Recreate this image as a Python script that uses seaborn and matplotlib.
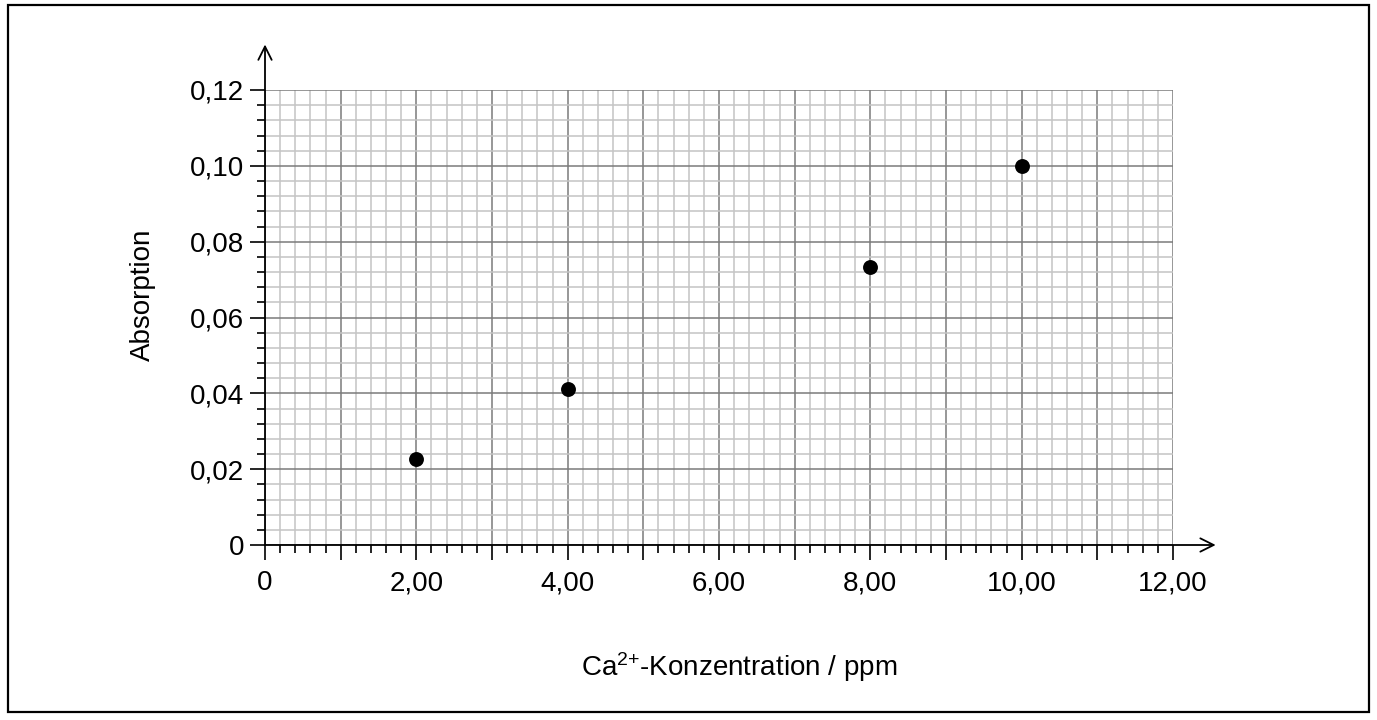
import matplotlib
matplotlib.use("Agg")
import matplotlib.pyplot as plt
import seaborn as sns
import pandas as pd
from matplotlib.ticker import MultipleLocator, FuncFormatter
from matplotlib.patches import Rectangle

# Messwerte
konzentration = [2.0, 4.0, 8.0, 10.0]
absorption = [0.0226, 0.0412, 0.0732, 0.1000]

x_label = "Ca$^{2{+}}$-Konzentration / ppm"
y_label = "Absorption"

df = pd.DataFrame({"c": konzentration, "A": absorption})

sns.set_theme(style="white")
plt.rcParams["font.family"] = ["Liberation Sans", "DejaVu Sans"]
plt.rcParams["mathtext.fontset"] = "custom"
plt.rcParams["mathtext.rm"] = "Liberation Sans"
plt.rcParams["mathtext.it"] = "Liberation Sans"
plt.rcParams["text.color"] = "black"
plt.rcParams["axes.labelcolor"] = "black"
plt.rcParams["xtick.color"] = "black"
plt.rcParams["ytick.color"] = "black"

fig = plt.figure(figsize=(13.77, 7.2), dpi=100)
ax = fig.add_axes([265 / 1377, 1 - 545 / 720, 908 / 1377, 455 / 720])

ax.set_xlim(0, 12)
ax.set_ylim(0, 0.12)

# Millimeterpapier
ax.xaxis.set_major_locator(MultipleLocator(1))
ax.xaxis.set_minor_locator(MultipleLocator(0.2))
ax.yaxis.set_major_locator(MultipleLocator(0.02))
ax.yaxis.set_minor_locator(MultipleLocator(0.004))
ax.grid(which="minor", color="#c4c4c4", linewidth=1.1, zorder=0)
ax.grid(which="major", color="#7a7a7a", linewidth=1.1, zorder=0)
ax.set_axisbelow(True)

def fmt_x(v, pos):
    if abs(v) < 1e-9:
        return "0"
    if int(round(v)) % 2 == 1:
        return ""
    return f"{v:.2f}".replace(".", ",")

def fmt_y(v, pos):
    if abs(v) < 1e-9:
        return "0"
    return f"{v:.2f}".replace(".", ",")

ax.xaxis.set_major_formatter(FuncFormatter(fmt_x))
ax.yaxis.set_major_formatter(FuncFormatter(fmt_y))

ax.tick_params(axis="both", which="major", direction="out", length=11, width=1.2,
               color="black", labelcolor="black", labelsize=20, left=True, bottom=True)
ax.tick_params(axis="both", which="minor", direction="out", length=6, width=1.2,
               color="black", left=True, bottom=True)
ax.tick_params(axis="x", which="major", pad=7)
ax.tick_params(axis="y", which="major", pad=4)

for side in ["top", "right", "left", "bottom"]:
    ax.spines[side].set_visible(False)

# Achsen mit Pfeilen
ax.annotate("", xy=(0, 1.10), xytext=(0, 0), xycoords="axes fraction",
            arrowprops=dict(arrowstyle="->,head_length=0.8,head_width=0.4", color="black", lw=1.3,
                            shrinkA=0, shrinkB=0), annotation_clip=False)
ax.annotate("", xy=(1.047, 0), xytext=(0, 0), xycoords="axes fraction",
            arrowprops=dict(arrowstyle="->,head_length=0.8,head_width=0.4", color="black", lw=1.3,
                            shrinkA=0, shrinkB=0), annotation_clip=False)

sns.scatterplot(data=df, x="c", y="A", ax=ax, color="black", s=115,
                linewidth=0, zorder=5, clip_on=False)

ax.set_xlabel(x_label, fontsize=20)
ax.set_ylabel(y_label, fontsize=20)
ax.xaxis.set_label_coords(0.522, -0.232)
ax.yaxis.set_label_coords(-0.12, 0.55)

# Rahmen
fig.patches.append(Rectangle((8 / 1377, 8 / 720), 1361 / 1377, 707 / 720,
                             transform=fig.transFigure, fill=False,
                             edgecolor="black", linewidth=1.6))

fig.savefig("out.png", dpi=100)
